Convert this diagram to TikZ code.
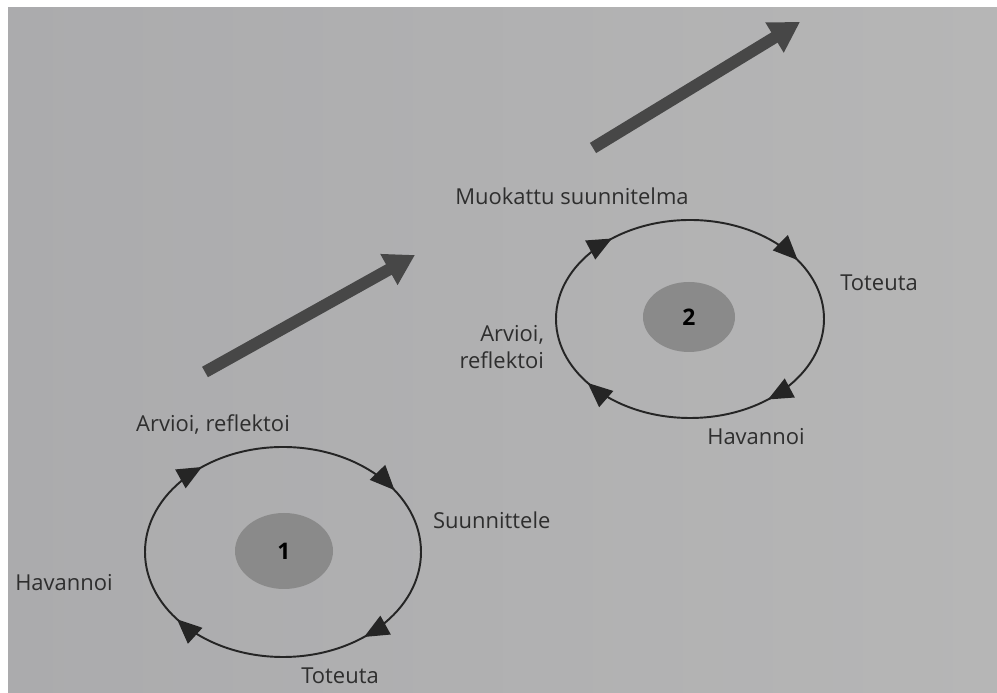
\documentclass[tikz,border=0pt]{standalone}
\usepackage{fontspec}
\setmainfont{Open Sans}
\usetikzlibrary{arrows.meta,shapes,decorations.markings}
\definecolor{paper}{HTML}{ABABAD}
\definecolor{paperR}{HTML}{B6B6B6}
\definecolor{ink}{HTML}{2E2E2E}
\definecolor{hubgray}{HTML}{8A8A8A}
\definecolor{bigink}{HTML}{474747}
\tikzstyle{steplbl}=[text=ink,font=\fontsize{12.5}{15}\selectfont,inner sep=1pt]
\tikzstyle{hub}=[ellipse,fill=hubgray,text=black,font=\fontsize{13}{14}\selectfont\bfseries,inner sep=0pt]
\tikzstyle{ring}=[draw=ink!80!black,line width=1.1pt,postaction={decorate},
  decoration={markings,
    mark=at position 0.14 with {\arrow{Triangle[length=14pt,width=12pt]}},
    mark=at position 0.40 with {\arrow{Triangle[length=14pt,width=12pt]}},
    mark=at position 0.64 with {\arrow{Triangle[length=14pt,width=12pt]}},
    mark=at position 0.91 with {\arrow{Triangle[length=14pt,width=12pt]}}}]
\tikzstyle{bigarrow}=[-{Triangle[length=17pt,width=19pt]},draw=bigink,line width=6.8pt]

\begin{document}
\begin{tikzpicture}
\fill[white] (0,0) rectangle (19.94,13.86);
\shade[left color=paper,right color=paperR] (0.16,0) rectangle (19.94,13.70);
% kierros 1
\node[hub,minimum width=1.96cm,minimum height=1.52cm] (hub1) at (5.68,2.84) {1};
\coordinate (ring1) at (5.66,2.82);
\draw[ring] (ring1) ++(2.76,0) arc[start angle=0,end angle=-360,x radius=2.76cm,y radius=2.10cm];
\node[steplbl] (arv1) at (4.26,5.36) {Arvioi, reflektoi};
\node[steplbl,anchor=west] (suu1) at (8.62,3.46) {Suunnittele};
\node[steplbl] (hav1) at (1.28,2.20) {Havannoi};
\node[steplbl] (tot1) at (6.80,0.34) {Toteuta};
% kierros 2
\node[hub,minimum width=1.84cm,minimum height=1.40cm] (hub2) at (13.78,7.52) {2};
\coordinate (ring2) at (13.80,7.48);
\draw[ring] (ring2) ++(2.68,0) arc[start angle=0,end angle=-360,x radius=2.68cm,y radius=1.98cm];
\node[steplbl] (muo2) at (11.44,9.94) {Muokattu suunnitelma};
\node[steplbl] (tot2) at (17.58,8.20) {Toteuta};
\node[steplbl,anchor=east,align=right] (arv2) at (10.92,6.92) {Arvioi,\\reflektoi};
\node[steplbl] (hav2) at (15.12,5.12) {Havannoi};
% isot nuolet
\coordinate (upA0) at (4.10,6.42);
\coordinate (upA1) at (8.30,8.76);
\coordinate (upB0) at (11.86,10.90);
\coordinate (upB1) at (16.00,13.42);
\draw[bigarrow] (upA0)--(upA1);
\draw[bigarrow] (upB0)--(upB1);
\end{tikzpicture}
\end{document}
